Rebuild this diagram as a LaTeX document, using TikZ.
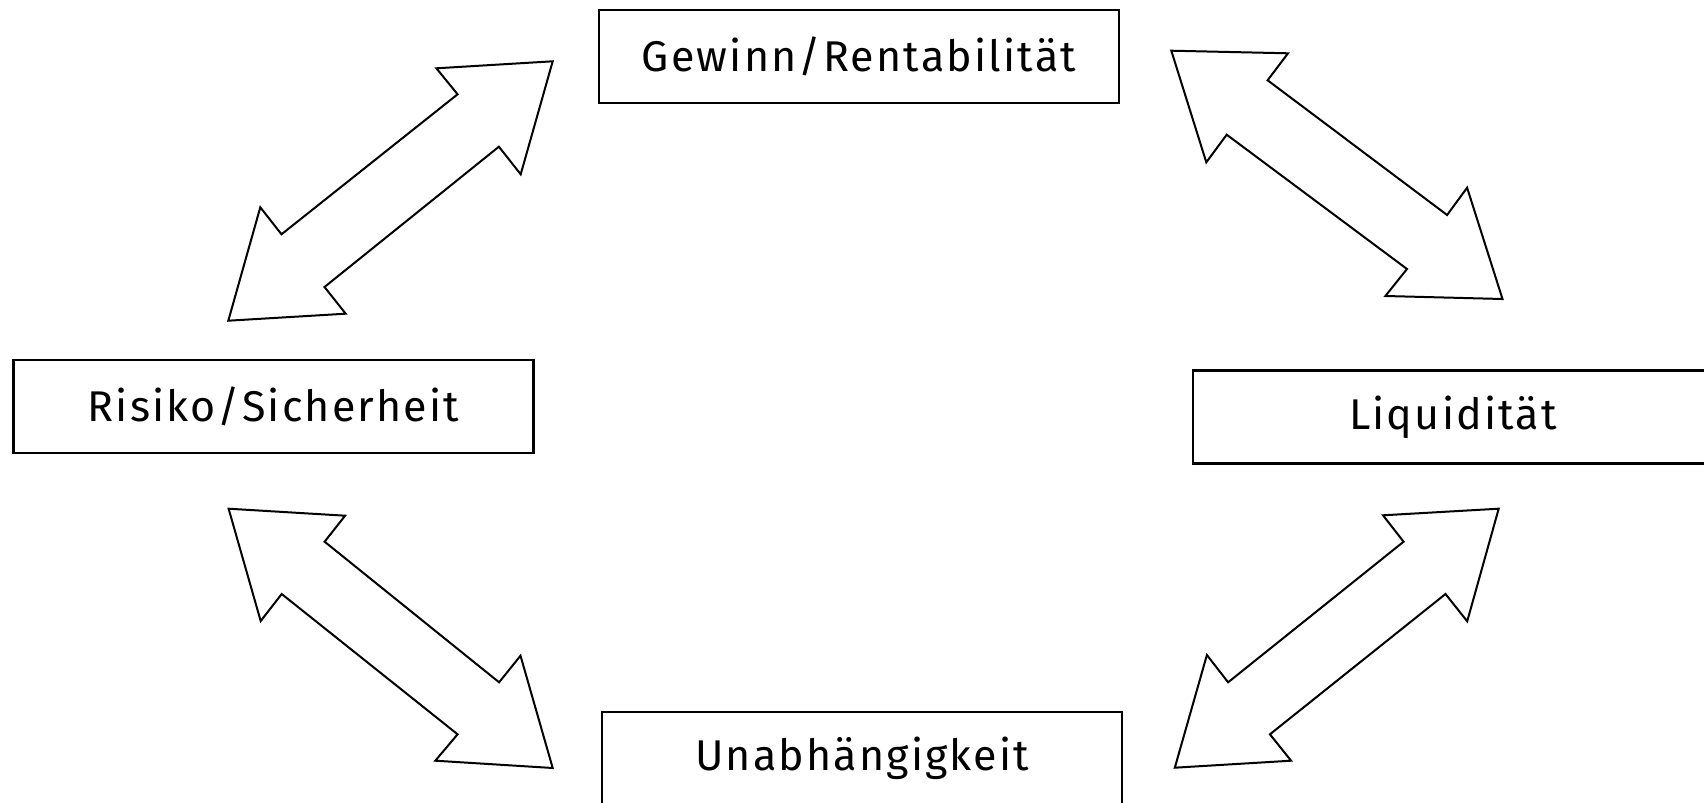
\documentclass[tikz,border=0pt]{standalone}
\usepackage{fontspec}
\setmainfont{Fira Sans}[LetterSpace=5]
\begin{document}
\begin{tikzpicture}[x=0.5pt,y=-0.5pt,
  box/.style={draw, line width=1.2pt, minimum width=260pt, minimum height=46.5pt,
    inner sep=0pt, font=\fontsize{21.5}{25}\selectfont},
  dblarrow/.style={draw, line width=1pt, line join=miter, fill=white}]
\clip (0,0) rectangle (1704,803);
\fill[white] (0,0) rectangle (1704,803);

\node[box] (gew) at (859,56.5) {Gewinn/Rentabilität};
\node[box] (ris) at (273.5,406.5) {Risiko/Sicherheit};
\node[box] (liq) at (1453,417) {Liquidität};
\node[box] (una) at (862,758.5) {Unabhängigkeit};

% Risiko <-> Gewinn
\draw[dblarrow] (552.7,61.3) -- (436.4,68.3) -- (457.6,94.3) -- (281.5,234.3)
  -- (260.3,207.3) -- (228.3,320.7) -- (345.7,313.7) -- (324.5,287)
  -- (498.9,146.7) -- (520.7,174.3) -- cycle;
% Gewinn <-> Liquiditaet
\draw[dblarrow] (1171.3,50.7) -- (1288,53.3) -- (1267.6,80.3) -- (1447.1,215)
  -- (1467.1,187.7) -- (1502.5,299) -- (1385.4,296) -- (1407,269)
  -- (1226.7,134.7) -- (1206.3,162.3) -- cycle;
% Risiko <-> Unabhaengigkeit
\draw[dblarrow] (228.6,508.7) -- (345.1,515.7) -- (324.6,541.7) -- (499.1,682.3)
  -- (520.5,655.7) -- (552.7,768) -- (435.3,760.7) -- (457.6,734.3)
  -- (281.7,594) -- (260.7,621) -- cycle;
% Liquiditaet <-> Unabhaengigkeit
\draw[dblarrow] (1498.7,508.7) -- (1383,515.3) -- (1403.6,541.7) -- (1228.1,682.3)
  -- (1206.9,655) -- (1174.8,767.7) -- (1291.1,760.7) -- (1269.9,734.3)
  -- (1445.5,594) -- (1467.2,621.3) -- cycle;
\end{tikzpicture}
\end{document}
